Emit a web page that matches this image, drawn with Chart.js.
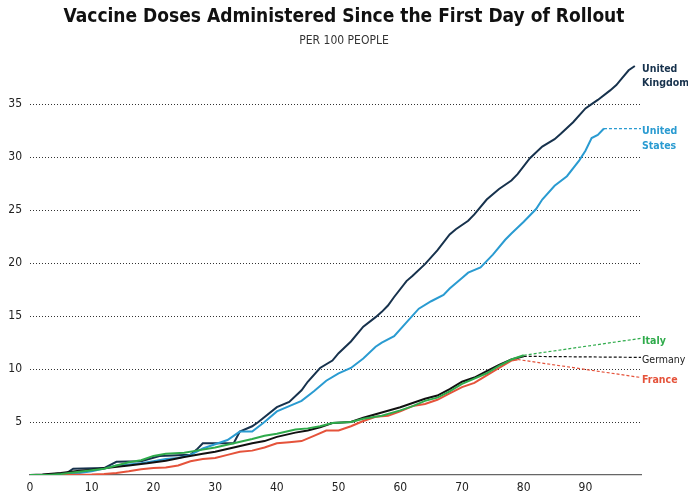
<!DOCTYPE html>
<html>
<head>
<meta charset="utf-8">
<script src="https://cdn.jsdelivr.net/npm/chart.js@4"></script>
<style>
html,body{margin:0;padding:0;background:#fff;}
#wrap{width:688px;height:499px;}
</style>
</head>
<body>
<div id="wrap"><canvas id="c" width="688" height="499"></canvas></div>
<script>
const FONT = "'Liberation Sans Narrow','DejaVu Sans Condensed',sans-serif";

const xTicks = [0,10,20,30,40,50,60,70,80,90];
const yTicks = [5,10,15,20,25,30,35];

const ukDays = [0,2,4,6,7,12,14,18,21,26,27,28,33,34,36,37,40,42,44,45,47,49,50,52,54,56,57,58,59,61,62,64,66,68,69,71,72,74,76,78,79,81,83,85,86,88,90,91,92,94,95,96,97,98];
const ukVals = [0,0,0.1,0.2,0.6,0.65,1.25,1.3,1.8,1.9,2.4,3.0,3.0,4.1,4.6,5.0,6.4,6.9,8.0,8.8,10.1,10.8,11.5,12.6,14.0,14.9,15.4,16.0,16.8,18.3,18.8,19.9,21.2,22.7,23.2,24.0,24.6,26.0,27.0,27.8,28.4,29.9,31.0,31.7,32.2,33.3,34.6,35.0,35.4,36.3,36.8,37.5,38.2,38.6];

const usDays = [0,4,6,8,10,12,14,16,18,20,22,24,26,28,30,32,34,36,38,40,42,44,46,48,50,52,54,56,57,59,61,63,65,67,68,70,71,73,75,77,78,80,82,83,85,87,89,90,91,92,93];
const usVals = [0,0,0.1,0.2,0.35,0.6,0.9,1.0,1.1,1.3,1.5,1.6,1.9,2.5,2.9,3.3,4.1,4.1,5.0,6.0,6.5,7.0,7.9,8.9,9.6,10.1,11.0,12.1,12.5,13.1,14.4,15.7,16.4,17.0,17.6,18.6,19.1,19.6,20.8,22.2,22.8,23.9,25.1,26.0,27.3,28.2,29.7,30.6,31.8,32.1,32.7];

const deDays = [0,2,5,8,10,13,16,19,22,25,28,30,33,36,38,40,43,45,47,49,52,54,57,60,62,64,66,68,70,72,74,76,78,80];
const deVals = [0,0.05,0.2,0.4,0.5,0.7,0.9,1.1,1.35,1.7,2.0,2.2,2.6,3.0,3.2,3.6,4.0,4.2,4.5,4.9,5.0,5.4,5.9,6.4,6.8,7.2,7.5,8.1,8.8,9.2,9.8,10.4,10.9,11.2];

const itDays = [0,3,5,8,10,12,14,16,18,20,22,25,27,30,33,36,38,40,43,45,47,49,52,54,57,60,62,64,66,68,70,72,74,76,78,80];
const itVals = [0,0,0.1,0.3,0.45,0.6,0.9,1.2,1.4,1.8,2.0,2.1,2.3,2.6,3.0,3.4,3.7,3.9,4.3,4.4,4.6,4.9,5.0,5.3,5.6,6.1,6.5,7.0,7.3,7.9,8.6,9.1,9.6,10.3,10.9,11.3];

const frDays = [0,5,10,12,14,16,18,20,22,24,26,28,30,32,34,36,38,40,42,44,46,48,50,52,54,56,58,60,62,64,66,68,70,72,74,76,78,79];
const frVals = [0,0,0.05,0.1,0.2,0.35,0.55,0.65,0.7,0.9,1.3,1.5,1.6,1.9,2.2,2.3,2.6,3.0,3.1,3.2,3.7,4.2,4.2,4.6,5.1,5.5,5.6,6.0,6.5,6.7,7.1,7.7,8.3,8.7,9.4,10.1,10.8,10.9];

// projection (dashed) segments
const usProjDays = [93,99];  const usProjVals = [32.7,32.7];
const itProjDays = [80,99];  const itProjVals = [11.3,12.9];
const deProjDays = [80,99];  const deProjVals = [11.2,11.1];
const frProjDays = [79,99];  const frProjVals = [10.9,9.2];

const seriesNames = ['United Kingdom','United States','Italy','Germany','France'];
const seriesColors = ['#17324d','#2a9bd1','#2fab4b','#111111','#e5533b'];

function pts(d,v){ return d.map((x,i)=>({x:x,y:v[i]})); }

const lineDs = (label,d,v,color)=>({label,data:pts(d,v),borderColor:color,borderWidth:2,pointRadius:0,tension:0,fill:false});
const projDs = (label,d,v,color)=>({label,data:pts(d,v),borderColor:color,borderWidth:1.2,borderDash:[3,2],pointRadius:0,tension:0,fill:false});

const labelDefs = [
  {lines:['United','Kingdom'], color:seriesColors[0], y:ukVals[ukVals.length-1], weight:'bold'},
  {lines:['United','States'], color:seriesColors[1], y:usProjVals[1], weight:'bold'},
  {lines:['Italy'], color:seriesColors[2], y:itProjVals[1], weight:'bold'},
  {lines:['Germany'], color:'#222222', y:deProjVals[1], weight:'normal'},
  {lines:['France'], color:seriesColors[4], y:frProjVals[1], weight:'bold'}
];

const endLabels = {
  id:'endLabels',
  afterDraw(chart){
    const ctx = chart.ctx, ys = chart.scales.y, area = chart.chartArea;
    ctx.save();
    ctx.textAlign = 'left';
    ctx.textBaseline = 'middle';
    labelDefs.forEach(l=>{
      ctx.font = l.weight + " 10.5px " + FONT;
      ctx.fillStyle = l.color;
      const y0 = ys.getPixelForValue(l.y) + 3;
      l.lines.forEach((t,i)=>ctx.fillText(t, area.right + 1, y0 + i*14.5));
    });
    ctx.restore();
  }
};

new Chart(document.getElementById('c'), {
  type:'line',
  data:{datasets:[
    lineDs(seriesNames[2], itDays, itVals, seriesColors[2]),
    lineDs(seriesNames[4], frDays, frVals, seriesColors[4]),
    lineDs(seriesNames[3], deDays, deVals, seriesColors[3]),
    lineDs(seriesNames[1], usDays, usVals, seriesColors[1]),
    lineDs(seriesNames[0], ukDays, ukVals, seriesColors[0]),
    projDs(seriesNames[1]+' proj', usProjDays, usProjVals, seriesColors[1]),
    projDs(seriesNames[2]+' proj', itProjDays, itProjVals, seriesColors[2]),
    projDs(seriesNames[3]+' proj', deProjDays, deProjVals, seriesColors[3]),
    projDs(seriesNames[4]+' proj', frProjDays, frProjVals, seriesColors[4])
  ]},
  options:{
    responsive:false,
    animation:false,
    devicePixelRatio:1,
    layout:{padding:0},
    plugins:{
      legend:{display:false},
      tooltip:{enabled:false},
      title:{display:true,text:'Vaccine Doses Administered Since the First Day of Rollout',
        font:{family:FONT,size:19,weight:'bold'},color:'#111',padding:{top:6,bottom:5}},
      subtitle:{display:true,text:'PER 100 PEOPLE',
        font:{family:FONT,size:12},color:'#333',padding:{top:0,bottom:3}}
    },
    scales:{
      x:{type:'linear',min:0,max:99,
        ticks:{stepSize:10,font:{family:FONT,size:12},color:'#222',padding:6,maxRotation:0},
        afterBuildTicks:(s)=>{ s.ticks = xTicks.map(v=>({value:v})); },
        afterFit:(s)=>{ s.height = 24; },
        grid:{color:'transparent',drawTicks:false},
        border:{display:true,color:'#666',width:1.2}
      },
      y:{min:0,max:40,
        ticks:{stepSize:5,font:{family:FONT,size:12},color:'#222',padding:8},
        afterBuildTicks:(s)=>{ s.ticks = yTicks.map(v=>({value:v})); },
        afterFit:(s)=>{ s.width = 30; },
        grid:{color:'#333',lineWidth:1,drawTicks:false},
        border:{display:false,dash:[1,2]}
      },
      yRight:{position:'right',min:0,max:40,
        ticks:{display:false},
        grid:{display:false,drawTicks:false},
        border:{display:false},
        afterFit:(s)=>{ s.width = 47; }
      }
    }
  },
  plugins:[endLabels]
});
</script>
</body>
</html>
